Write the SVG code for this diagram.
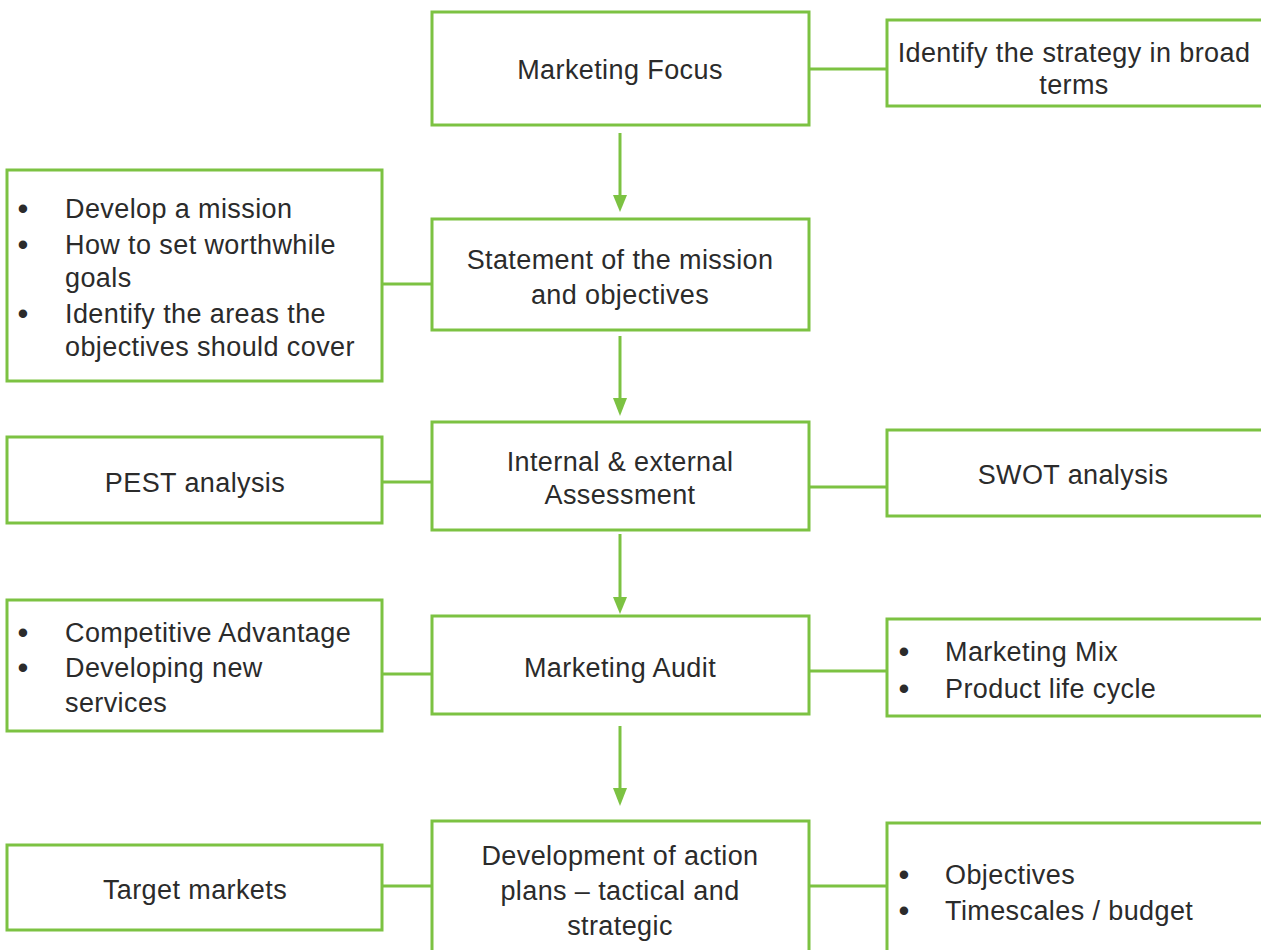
<svg xmlns="http://www.w3.org/2000/svg" width="1261" height="950" viewBox="0 0 1261 950">
<defs>
<style>
.box{fill:#ffffff;stroke:#7cc242;stroke-width:3}
.ln{fill:none;stroke:#7cc242;stroke-width:3}
.ah{fill:#7cc242}
.t{font-family:"Liberation Sans",Arial,Helvetica,sans-serif;font-size:27px;fill:#2b2b2b;letter-spacing:0.4px}
.c{text-anchor:middle}
.b{text-anchor:middle;font-size:31px;letter-spacing:0}
</style>
</defs>
<rect width="1261" height="950" fill="#ffffff"/>

<g id="connectors">
<line class="ln" x1="620" y1="133" x2="620" y2="196"/>
<path class="ah" d="M613,195 L627,195 L620,212 z"/>
<line class="ln" x1="620" y1="336" x2="620" y2="400"/>
<path class="ah" d="M613,398 L627,398 L620,416 z"/>
<line class="ln" x1="620" y1="534" x2="620" y2="598"/>
<path class="ah" d="M613,597 L627,597 L620,614 z"/>
<line class="ln" x1="620" y1="726" x2="620" y2="790"/>
<path class="ah" d="M613,788 L627,788 L620,806 z"/>
<line class="ln" x1="809" y1="69" x2="887" y2="69"/>
<line class="ln" x1="382" y1="284" x2="432" y2="284"/>
<line class="ln" x1="382" y1="482" x2="432" y2="482"/>
<line class="ln" x1="809" y1="487" x2="887" y2="487"/>
<line class="ln" x1="382" y1="674" x2="432" y2="674"/>
<line class="ln" x1="809" y1="671" x2="887" y2="671"/>
<line class="ln" x1="382" y1="886" x2="432" y2="886"/>
<line class="ln" x1="809" y1="886" x2="887" y2="886"/>
</g>

<g id="marketing-focus">
<rect class="box" x="432" y="12" width="377" height="113"/>
<text class="t c" x="620" y="79">Marketing Focus</text>
</g>

<g id="identify-strategy">
<rect class="box" x="887" y="20" width="384" height="86"/>
<text class="t c" x="1074" y="62">Identify the strategy in broad</text>
<text class="t c" x="1074" y="94">terms</text>
</g>

<g id="mission-list">
<rect class="box" x="7" y="170" width="375" height="211"/>
<text class="t b" x="23" y="219">•</text>
<text class="t" x="65" y="218">Develop a mission</text>
<text class="t b" x="23" y="255">•</text>
<text class="t" x="65" y="254">How to set worthwhile</text>
<text class="t" x="65" y="287">goals</text>
<text class="t b" x="23" y="324">•</text>
<text class="t" x="65" y="323">Identify the areas the</text>
<text class="t" x="65" y="356">objectives should cover</text>
</g>

<g id="statement">
<rect class="box" x="432" y="219" width="377" height="111"/>
<text class="t c" x="620" y="269">Statement of the mission</text>
<text class="t c" x="620" y="304">and objectives</text>
</g>

<g id="pest">
<rect class="box" x="7" y="437" width="375" height="86"/>
<text class="t c" x="195" y="492">PEST analysis</text>
</g>

<g id="assessment">
<rect class="box" x="432" y="422" width="377" height="108"/>
<text class="t c" x="620" y="471">Internal &amp; external</text>
<text class="t c" x="620" y="504">Assessment</text>
</g>

<g id="swot">
<rect class="box" x="887" y="430" width="384" height="86"/>
<text class="t c" x="1073" y="484">SWOT analysis</text>
</g>

<g id="competitive">
<rect class="box" x="7" y="600" width="375" height="131"/>
<text class="t b" x="23" y="643">•</text>
<text class="t" x="65" y="642">Competitive Advantage</text>
<text class="t b" x="23" y="678">•</text>
<text class="t" x="65" y="677">Developing new</text>
<text class="t" x="65" y="712">services</text>
</g>

<g id="marketing-audit">
<rect class="box" x="432" y="616" width="377" height="98"/>
<text class="t c" x="620" y="677">Marketing Audit</text>
</g>

<g id="marketing-mix">
<rect class="box" x="887" y="619" width="384" height="97"/>
<text class="t b" x="904" y="662">•</text>
<text class="t" x="945" y="661">Marketing Mix</text>
<text class="t b" x="904" y="699">•</text>
<text class="t" x="945" y="698">Product life cycle</text>
</g>

<g id="target-markets">
<rect class="box" x="7" y="845" width="375" height="85"/>
<text class="t c" x="195" y="899">Target markets</text>
</g>

<g id="action-plans">
<rect class="box" x="432" y="821" width="377" height="160"/>
<text class="t c" x="620" y="865">Development of action</text>
<text class="t c" x="620" y="900">plans – tactical and</text>
<text class="t c" x="620" y="935">strategic</text>
</g>

<g id="objectives">
<rect class="box" x="887" y="823" width="384" height="160"/>
<text class="t b" x="904" y="885">•</text>
<text class="t" x="945" y="884">Objectives</text>
<text class="t b" x="904" y="921">•</text>
<text class="t" x="945" y="920">Timescales / budget</text>
</g>
</svg>
